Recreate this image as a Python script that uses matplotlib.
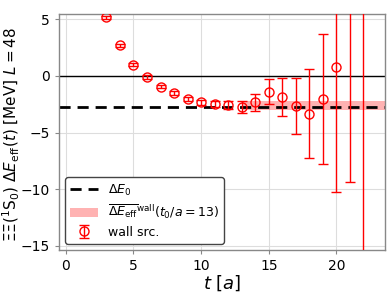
import numpy as np
import matplotlib
matplotlib.use("Agg")
import matplotlib.pyplot as plt

# effective energy shift, wall source
t_vals = [3, 4, 5, 6, 7, 8, 9, 10, 11, 12, 13, 14, 15, 16, 17, 18, 19, 20, 21, 22]
dE_eff = [5.15, 2.69, 0.99, -0.11, -0.96, -1.52, -2.05, -2.34, -2.48, -2.57,
          -2.72, -2.34, -1.38, -1.90, -2.66, -3.33, -2.05, 0.76, 6.0, 7.0]
dE_err = [0.15, 0.15, 0.15, 0.15, 0.15, 0.18, 0.2, 0.25, 0.28, 0.32,
          0.51, 0.73, 1.10, 1.67, 2.49, 3.92, 5.76, 11.0, 15.4, 25.0]

dE0 = -2.75
fit_t0 = 13
fit_val = -2.65
fit_err = 0.40

fig = plt.figure(figsize=(3.91, 2.99), dpi=100)
ax = fig.add_axes([0.151, 0.164, 0.834, 0.789])

ax.grid(True, color="#dddddd", linewidth=0.8, zorder=0)
ax.set_axisbelow(True)
for s in ax.spines.values():
    s.set_color("#888888")
    s.set_linewidth(1.0)

ax.axhline(0, color="black", linewidth=1.0, zorder=1)
ax.axhline(dE0, color="black", linestyle="--", linewidth=2.0, dashes=(4, 2.5),
           label=r"$\Delta E_0$", zorder=2)
ax.fill_between([fit_t0, 30], fit_val - fit_err, fit_val + fit_err,
                color="red", alpha=0.3, linewidth=0,
                label=r"$\overline{\Delta E_{\rm eff}}^{\rm wall}(t_0/a=13)$", zorder=1.5)
ax.errorbar(t_vals, dE_eff, yerr=dE_err, fmt="o", mfc="none", mec="red",
            color="red", ms=6.5, mew=1.0, elinewidth=1.0, capsize=3.5,
            label="wall src.", zorder=3)

ax.set_xlim(-0.5, 23.6)
ax.set_ylim(-15.35, 5.45)
ax.set_xticks([0, 5, 10, 15, 20])
ax.set_yticks([-15, -10, -5, 0, 5])
ax.tick_params(labelsize=10, length=3, color="#888888")

ax.set_xlabel(r"$t$ $[a]$", fontsize=13, labelpad=0)
ax.set_ylabel(r"$\Xi\Xi(^1\mathrm{S}_0)$ $\Delta E_{\rm eff}(t)$ [MeV] $L=48$",
              fontsize=11)
ax.yaxis.set_label_coords(-0.115, 0.49)

leg = ax.legend(loc="lower left", fontsize=9, frameon=True, fancybox=True,
                edgecolor="#444444", framealpha=1.0, handlelength=2.2,
                borderpad=0.4, labelspacing=0.4)
leg.get_frame().set_linewidth(1.0)

fig.savefig("out.png", dpi=100)
